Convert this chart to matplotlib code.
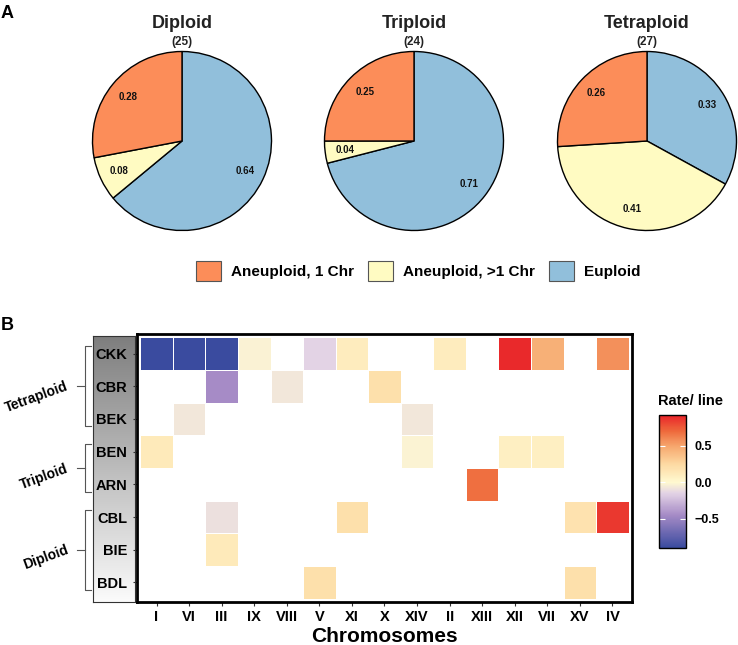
import numpy as np
import matplotlib
matplotlib.use('Agg')
import matplotlib.pyplot as plt
import matplotlib.transforms as mtransforms
from matplotlib.colors import LinearSegmentedColormap, Normalize
from matplotlib.patches import Patch

plt.rcParams['font.family'] = ['Liberation Sans', 'DejaVu Sans']
plt.rcParams['font.weight'] = 'bold'

# ---- panel A data ----
ploidy = ['Diploid', 'Triploid', 'Tetraploid']
n_lines = [25, 24, 27]
euploid = [0.64, 0.71, 0.33]
aneu_multi = [0.08, 0.04, 0.41]
aneu_one = [0.28, 0.25, 0.26]
pie_labels = ['Aneuploid, 1 Chr', 'Aneuploid, >1 Chr', 'Euploid']
pie_colors = {'one': '#FC8D59', 'multi': '#FFFBC2', 'eu': '#91BFDB'}

# ---- panel B data ----
chromosomes = ['I', 'VI', 'III', 'IX', 'VIII', 'V', 'XI', 'X', 'XIV', 'II',
               'XIII', 'XII', 'VII', 'XV', 'IV']
lines = ['CKK', 'CBR', 'BEK', 'BEN', 'ARN', 'CBL', 'BIE', 'BDL']
nan = np.nan
rate_CKK = [-0.9, -0.9, -0.9, -0.03, nan, -0.15, 0.1, nan, nan, 0.1, nan, 0.9, 0.45, nan, 0.57]
rate_CBR = [nan, nan, -0.45, nan, -0.07, nan, nan, 0.2, nan, nan, nan, nan, nan, nan, nan]
rate_BEK = [nan, -0.07, nan, nan, nan, nan, nan, nan, -0.07, nan, nan, nan, nan, nan, nan]
rate_BEN = [0.12, nan, nan, nan, nan, nan, nan, nan, -0.02, nan, nan, 0.08, 0.08, nan, nan]
rate_ARN = [nan, nan, nan, nan, nan, nan, nan, nan, nan, nan, 0.68, nan, nan, nan, nan]
rate_CBL = [nan, nan, -0.1, nan, nan, nan, 0.2, nan, nan, nan, nan, nan, nan, 0.18, 0.85]
rate_BIE = [nan, nan, 0.12, nan, nan, nan, nan, nan, nan, nan, nan, nan, nan, nan, nan]
rate_BDL = [nan, nan, nan, nan, nan, 0.2, nan, nan, nan, nan, nan, nan, nan, 0.2, nan]
groups = ['Tetraploid', 'Triploid', 'Diploid']
group_rows = [(0, 2), (3, 4), (5, 7)]
cbar_ticks = [-0.5, 0.0, 0.5]
cbar_ticklabels = ['\u22120.5', '0.0', '0.5']

W, H = 738, 645
fig = plt.figure(figsize=(W / 100, H / 100), dpi=100)


def px_axes(x0, y0, x1, y1):
    return fig.add_axes([x0 / W, 1 - y1 / H, (x1 - x0) / W, (y1 - y0) / H])


# ---------------- panel A: pies ----------------
R = 89.5
pad = 1.04
for name, n, eu, mu, one, cx in zip(ploidy, n_lines, euploid, aneu_multi, aneu_one, [182, 414, 647]):
    cy = 141
    ax = px_axes(cx - R * pad, cy - R * pad, cx + R * pad, cy + R * pad)
    ax.pie([eu, mu, one], colors=[pie_colors['eu'], pie_colors['multi'], pie_colors['one']],
           startangle=90, counterclock=False,
           wedgeprops=dict(edgecolor='black', linewidth=1.0),
           autopct=lambda p: f'{p / 100:.2f}', pctdistance=0.78,
           textprops=dict(fontsize=7, fontweight='bold', color='#111111'))
    ax.set_xlim(-pad, pad)
    ax.set_ylim(-pad, pad)
    fig.text(cx / W, 1 - 24 / H, name, ha='center', va='center', fontsize=13, fontweight='bold', color='#222222')
    fig.text(cx / W, 1 - 42 / H, f'({n})', ha='center', va='center', fontsize=8.5, fontweight='bold', color='#222222')

handles = [Patch(facecolor=pie_colors[k], edgecolor='#555555', linewidth=0.8) for k in ['one', 'multi', 'eu']]
fig.legend(handles, pie_labels, loc='center', bbox_to_anchor=(418 / W, 1 - 271 / H), ncol=3,
           frameon=False, prop=dict(size=11, weight='bold'), handlelength=1.65, handleheight=1.65,
           handletextpad=0.65, columnspacing=0.9)

fig.text(7 / W, 1 - 13 / H, 'A', ha='center', va='center', fontsize=13, fontweight='bold')
fig.text(7 / W, 1 - 326 / H, 'B', ha='center', va='center', fontsize=13, fontweight='bold')

# ---------------- panel B: heatmap ----------------
# grey gradient strip behind the row labels
gx = px_axes(93, 336, 135, 602)
grey = LinearSegmentedColormap.from_list('grey', ['#7E7E7E', '#FBFBFB'])
gx.imshow(np.linspace(0, 1, 256)[:, None], cmap=grey, aspect='auto')
gx.set_xticks([])
gx.set_yticks([])
for s in gx.spines.values():
    s.set_color('#333333')
    s.set_linewidth(0.8)

vmin, vmax = -0.9, 0.92
nodes = [(-0.9, '#3A4B9F'), (-0.45, '#A68BC6'), (-0.15, '#E3D3E5'), (0.0, '#FFF9D0'),
         (0.25, '#FDD9A2'), (0.5, '#F6A56C'), (0.7, '#EE6A3C'), (0.92, '#E9242A')]
cmap = LinearSegmentedColormap.from_list(
    'rate', [((v - vmin) / (vmax - vmin), c) for v, c in nodes])
norm = Normalize(vmin=vmin, vmax=vmax)

rates = np.ma.masked_invalid(np.array([rate_CKK, rate_CBR, rate_BEK, rate_BEN,
                                       rate_ARN, rate_CBL, rate_BIE, rate_BDL]))

ax = px_axes(137, 334, 632, 602)
mesh = ax.pcolormesh(np.arange(len(chromosomes) + 1) - 0.5, np.arange(len(lines) + 1) - 0.5, rates,
                     cmap=cmap, norm=norm, edgecolors='white', linewidth=0.4)
ax.set_xlim(-0.6, len(chromosomes) - 0.4)
ax.set_ylim(len(lines) - 0.4, -0.6)
ax.set_xticks(np.arange(len(chromosomes)))
ax.set_xticklabels(chromosomes, fontsize=10.5, fontweight='bold')
ax.set_yticks(np.arange(len(lines)))
ax.set_yticklabels(lines, fontsize=10.5, fontweight='bold')
ax.tick_params(length=3, width=0.8, color='#333333', pad=3)
ax.tick_params(axis='y', pad=4)
for s in ax.spines.values():
    s.set_linewidth(2.0)
    s.set_color('black')
ax.set_xlabel('Chromosomes', fontsize=15, fontweight='bold', labelpad=2)

# group brackets
tr = mtransforms.blended_transform_factory(ax.transAxes, ax.transData)
xv, xe, xt = -0.105, -0.093, -0.121
for g, (a, b) in zip(groups, group_rows):
    y0, y1 = a - 0.22, b + 0.22
    ax.plot([xe, xv, xv, xe], [y0, y0, y1, y1], transform=tr, clip_on=False, color='#555555', lw=0.8)
    ym = (a + b) / 2
    ax.plot([xv, xt], [ym, ym], transform=tr, clip_on=False, color='#555555', lw=0.8)
    ax.text(-0.14, ym, g, transform=tr, ha='right', va='center', rotation=20,
            rotation_mode='anchor', fontsize=10, fontweight='bold')

# colour bar
cax = px_axes(659, 415, 686, 548)
cb = fig.colorbar(mesh, cax=cax, ticks=cbar_ticks)
cb.ax.set_yticklabels(cbar_ticklabels, fontsize=9, fontweight='bold')
cb.ax.tick_params(direction='in', color='white', length=4, width=0.8, left=True, right=True, pad=6)
cb.outline.set_linewidth(1.0)
cb.outline.set_edgecolor('black')
fig.text(658 / W, 1 - 401 / H, 'Rate/ line', ha='left', va='center', fontsize=10.5, fontweight='bold')

fig.savefig('out.png', dpi=100)
